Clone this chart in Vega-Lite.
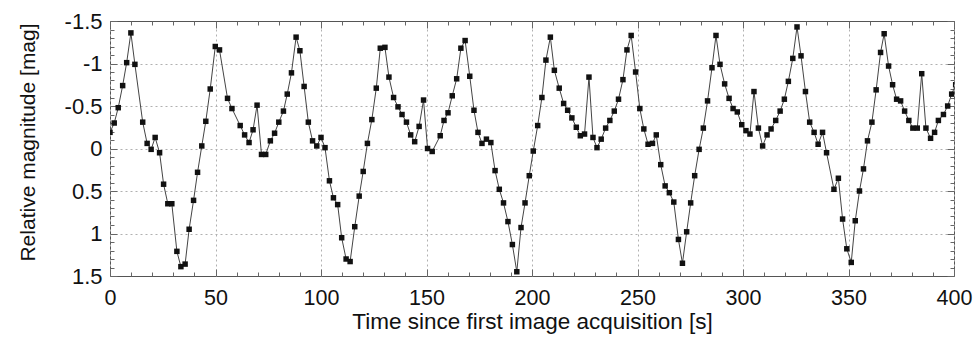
{
  "$schema": "https://vega.github.io/schema/vega-lite/v6.json",
  "width": 844,
  "height": 255,
  "autosize": {"type": "none"},
  "padding": {"left": 110, "top": 21, "right": 21, "bottom": 67},
  "background": "white",
  "config": {
    "view": {"stroke": "#555", "strokeWidth": 1},
    "font": "Liberation Sans",
    "axis": {"domain": false, "tickColor": "#666", "labelColor": "#111", "titleColor": "#111", "titleFontWeight": "normal"}
  },
  "data": {
    "values": [
      {"t": 0, "mag": -0.19}, {"t": 2.0, "mag": -0.30}, {"t": 3.9, "mag": -0.48}, {"t": 6.0, "mag": -0.74},
      {"t": 7.9, "mag": -1.01}, {"t": 9.9, "mag": -1.36}, {"t": 11.8, "mag": -0.99}, {"t": 15.5, "mag": -0.31},
      {"t": 17.6, "mag": -0.06}, {"t": 19.5, "mag": 0.01}, {"t": 21.4, "mag": -0.13}, {"t": 23.5, "mag": 0.05},
      {"t": 25.4, "mag": 0.42}, {"t": 27.4, "mag": 0.65}, {"t": 29.3, "mag": 0.65}, {"t": 31.7, "mag": 1.21},
      {"t": 33.6, "mag": 1.39}, {"t": 35.6, "mag": 1.36}, {"t": 37.5, "mag": 0.95}, {"t": 39.6, "mag": 0.61},
      {"t": 41.5, "mag": 0.28}, {"t": 43.5, "mag": -0.03}, {"t": 45.4, "mag": -0.32}, {"t": 47.5, "mag": -0.70},
      {"t": 49.9, "mag": -1.20}, {"t": 51.9, "mag": -1.16}, {"t": 55.7, "mag": -0.59}, {"t": 57.8, "mag": -0.47},
      {"t": 61.7, "mag": -0.27}, {"t": 63.8, "mag": -0.16}, {"t": 65.9, "mag": -0.07}, {"t": 67.8, "mag": -0.22},
      {"t": 69.7, "mag": -0.51}, {"t": 71.8, "mag": 0.07}, {"t": 73.8, "mag": 0.07}, {"t": 76.0, "mag": -0.09},
      {"t": 78.0, "mag": -0.18}, {"t": 80.0, "mag": -0.31}, {"t": 82.2, "mag": -0.44}, {"t": 84.0, "mag": -0.64},
      {"t": 86.0, "mag": -0.89}, {"t": 88.2, "mag": -1.31}, {"t": 90.0, "mag": -1.15}, {"t": 92.0, "mag": -0.73},
      {"t": 94.0, "mag": -0.31}, {"t": 96.0, "mag": -0.09}, {"t": 98.0, "mag": -0.03}, {"t": 100.0, "mag": -0.13},
      {"t": 101.9, "mag": -0.01}, {"t": 104.0, "mag": 0.38}, {"t": 105.9, "mag": 0.58}, {"t": 107.9, "mag": 0.66},
      {"t": 109.8, "mag": 1.05}, {"t": 111.9, "mag": 1.30}, {"t": 113.8, "mag": 1.33}, {"t": 116.0, "mag": 0.92},
      {"t": 118.1, "mag": 0.56}, {"t": 120.0, "mag": 0.27}, {"t": 122.0, "mag": -0.06}, {"t": 124.1, "mag": -0.34},
      {"t": 126.2, "mag": -0.71}, {"t": 128.1, "mag": -1.18}, {"t": 130.3, "mag": -1.19}, {"t": 132.2, "mag": -0.84},
      {"t": 134.4, "mag": -0.60}, {"t": 136.5, "mag": -0.49}, {"t": 138.4, "mag": -0.40}, {"t": 140.5, "mag": -0.31},
      {"t": 142.5, "mag": -0.16}, {"t": 144.4, "mag": -0.08}, {"t": 146.5, "mag": -0.26}, {"t": 148.6, "mag": -0.57},
      {"t": 150.5, "mag": 0.0}, {"t": 152.7, "mag": 0.035}, {"t": 156.5, "mag": -0.15}, {"t": 158.3, "mag": -0.33},
      {"t": 160.2, "mag": -0.42}, {"t": 162.2, "mag": -0.62}, {"t": 164.3, "mag": -0.82}, {"t": 166.3, "mag": -1.18},
      {"t": 168.3, "mag": -1.27}, {"t": 170.5, "mag": -0.85}, {"t": 172.5, "mag": -0.45}, {"t": 174.4, "mag": -0.19},
      {"t": 176.3, "mag": -0.06}, {"t": 178.4, "mag": -0.11}, {"t": 180.5, "mag": -0.07}, {"t": 182.5, "mag": 0.26},
      {"t": 184.5, "mag": 0.48}, {"t": 186.5, "mag": 0.64}, {"t": 188.6, "mag": 0.86}, {"t": 190.7, "mag": 1.13},
      {"t": 192.8, "mag": 1.45}, {"t": 194.8, "mag": 0.93}, {"t": 196.7, "mag": 0.64}, {"t": 198.7, "mag": 0.32},
      {"t": 200.6, "mag": 0.03}, {"t": 202.7, "mag": -0.27}, {"t": 204.7, "mag": -0.60}, {"t": 206.6, "mag": -1.04},
      {"t": 208.7, "mag": -1.31}, {"t": 210.6, "mag": -0.92}, {"t": 212.9, "mag": -0.71}, {"t": 215.0, "mag": -0.53},
      {"t": 216.9, "mag": -0.45}, {"t": 218.9, "mag": -0.36}, {"t": 221.0, "mag": -0.25}, {"t": 222.9, "mag": -0.15},
      {"t": 224.9, "mag": -0.17}, {"t": 227.0, "mag": -0.84}, {"t": 228.9, "mag": -0.13}, {"t": 230.8, "mag": -0.01},
      {"t": 232.8, "mag": -0.11}, {"t": 234.9, "mag": -0.24}, {"t": 236.9, "mag": -0.33}, {"t": 239.0, "mag": -0.44},
      {"t": 241.0, "mag": -0.58}, {"t": 243.1, "mag": -0.81}, {"t": 245.0, "mag": -1.16}, {"t": 247.0, "mag": -1.33},
      {"t": 249.1, "mag": -0.90}, {"t": 251.1, "mag": -0.47}, {"t": 253.0, "mag": -0.23}, {"t": 255.0, "mag": -0.05},
      {"t": 257.1, "mag": -0.06}, {"t": 258.9, "mag": -0.16}, {"t": 261.0, "mag": 0.19}, {"t": 263.1, "mag": 0.44},
      {"t": 265.1, "mag": 0.52}, {"t": 267.2, "mag": 0.63}, {"t": 269.4, "mag": 1.07}, {"t": 271.3, "mag": 1.35},
      {"t": 273.3, "mag": 0.98}, {"t": 275.2, "mag": 0.64}, {"t": 277.1, "mag": 0.32}, {"t": 279.2, "mag": 0.01},
      {"t": 281.2, "mag": -0.24}, {"t": 283.2, "mag": -0.56}, {"t": 285.3, "mag": -0.95}, {"t": 287.2, "mag": -1.33},
      {"t": 289.1, "mag": -0.99}, {"t": 291.3, "mag": -0.76}, {"t": 293.4, "mag": -0.59}, {"t": 295.3, "mag": -0.47},
      {"t": 297.3, "mag": -0.43}, {"t": 299.4, "mag": -0.28}, {"t": 301.4, "mag": -0.21}, {"t": 303.3, "mag": -0.17},
      {"t": 305.2, "mag": -0.67}, {"t": 307.3, "mag": -0.24}, {"t": 309.3, "mag": -0.03}, {"t": 311.4, "mag": -0.16},
      {"t": 313.3, "mag": -0.23}, {"t": 315.5, "mag": -0.33}, {"t": 317.6, "mag": -0.44}, {"t": 319.6, "mag": -0.58},
      {"t": 321.5, "mag": -0.79}, {"t": 323.6, "mag": -1.06}, {"t": 325.6, "mag": -1.43}, {"t": 327.5, "mag": -1.09},
      {"t": 329.6, "mag": -0.67}, {"t": 331.6, "mag": -0.31}, {"t": 333.7, "mag": -0.19}, {"t": 335.6, "mag": -0.05},
      {"t": 337.7, "mag": -0.19}, {"t": 339.6, "mag": 0.05}, {"t": 343.1, "mag": 0.48}, {"t": 345.2, "mag": 0.35},
      {"t": 347.2, "mag": 0.83}, {"t": 349.2, "mag": 1.18}, {"t": 351.3, "mag": 1.34}, {"t": 353.2, "mag": 0.85},
      {"t": 355.2, "mag": 0.50}, {"t": 357.1, "mag": 0.24}, {"t": 359.0, "mag": -0.09}, {"t": 361.1, "mag": -0.31},
      {"t": 363.1, "mag": -0.69}, {"t": 365.2, "mag": -1.13}, {"t": 366.9, "mag": -1.35}, {"t": 369.0, "mag": -0.97},
      {"t": 370.9, "mag": -0.75}, {"t": 372.8, "mag": -0.58}, {"t": 374.7, "mag": -0.56}, {"t": 376.6, "mag": -0.44},
      {"t": 378.6, "mag": -0.33}, {"t": 380.5, "mag": -0.24}, {"t": 382.6, "mag": -0.24}, {"t": 384.7, "mag": -0.88},
      {"t": 386.7, "mag": -0.24}, {"t": 388.9, "mag": -0.12}, {"t": 390.8, "mag": -0.19}, {"t": 392.6, "mag": -0.33},
      {"t": 395.0, "mag": -0.40}, {"t": 397.0, "mag": -0.50}, {"t": 398.9, "mag": -0.64}, {"t": 400.8, "mag": -0.75}
    ]
  },
  "layer": [
    {
      "mark": {"type": "line", "color": "#444", "strokeWidth": 1, "clip": true},
      "encoding": {
        "x": {
          "field": "t", "type": "quantitative",
          "scale": {"domain": [0, 400], "nice": false, "zero": false},
          "axis": {
            "orient": "bottom",
            "title": "Time since first image acquisition [s]",
            "titleFontSize": 22.5, "titleX": 422, "titleY": 34, "titleAnchor": "middle",
            "values": [0,10,20,30,40,50,60,70,80,90,100,110,120,130,140,150,160,170,180,190,200,210,220,230,240,250,260,270,280,290,300,310,320,330,340,350,360,370,380,390,400],
            "labelExpr": "datum.value % 50 === 0 ? datum.label : ''",
            "labelFontSize": 21.5, "labelPadding": 18, "labelFlush": false, "labelOverlap": false,
            "grid": true, "gridColor": "#b0b0b0", "gridDash": [2, 3], "gridWidth": 1,
            "gridOpacity": {"condition": {"test": "datum.value % 50 === 0", "value": 1}, "value": 0},
            "tickSize": {"condition": {"test": "datum.value % 50 === 0", "value": -7}, "value": -4}
          }
        },
        "y": {
          "field": "mag", "type": "quantitative",
          "scale": {"domain": [-1.5, 1.5], "reverse": true, "nice": false, "zero": false},
          "axis": {
            "orient": "left",
            "title": "Relative magnitude [mag]",
            "titleFontSize": 21, "titleX": -72, "titleY": 121, "titleAnchor": "middle",
            "values": [-1.5,-1.4,-1.3,-1.2,-1.1,-1,-0.9,-0.8,-0.7,-0.6,-0.5,-0.4,-0.3,-0.2,-0.1,0,0.1,0.2,0.3,0.4,0.5,0.6,0.7,0.8,0.9,1,1.1,1.2,1.3,1.4,1.5],
            "labelExpr": "abs(datum.value*2 - round(datum.value*2)) < 0.01 ? toString(datum.value) : ''",
            "labelFontSize": 22, "labelPadding": 15, "labelFlush": false, "labelOverlap": false,
            "grid": true, "gridColor": "#b0b0b0", "gridDash": [2, 3], "gridWidth": 1,
            "gridOpacity": {"condition": {"test": "abs(datum.value*2 - round(datum.value*2)) < 0.01 && abs(datum.value) < 1.4", "value": 1}, "value": 0},
            "tickSize": {"condition": {"test": "abs(datum.value*2 - round(datum.value*2)) < 0.01", "value": -7}, "value": -4}
          }
        }
      }
    },
    {
      "mark": {"type": "point", "shape": "square", "filled": true, "size": 30, "color": "#111", "opacity": 1, "clip": true},
      "encoding": {
        "x": {
          "field": "t", "type": "quantitative",
          "axis": {
            "orient": "top", "title": null, "labels": false, "grid": false,
            "values": [0,10,20,30,40,50,60,70,80,90,100,110,120,130,140,150,160,170,180,190,200,210,220,230,240,250,260,270,280,290,300,310,320,330,340,350,360,370,380,390,400],
            "tickSize": {"condition": {"test": "datum.value % 50 === 0", "value": -7}, "value": -4}
          }
        },
        "y": {
          "field": "mag", "type": "quantitative",
          "axis": {
            "orient": "right", "title": null, "labels": false, "grid": false,
            "values": [-1.5,-1.4,-1.3,-1.2,-1.1,-1,-0.9,-0.8,-0.7,-0.6,-0.5,-0.4,-0.3,-0.2,-0.1,0,0.1,0.2,0.3,0.4,0.5,0.6,0.7,0.8,0.9,1,1.1,1.2,1.3,1.4,1.5],
            "tickSize": {"condition": {"test": "abs(datum.value*2 - round(datum.value*2)) < 0.01", "value": -7}, "value": -4}
          }
        }
      }
    }
  ],
  "resolve": {"axis": {"x": "independent", "y": "independent"}}
}
